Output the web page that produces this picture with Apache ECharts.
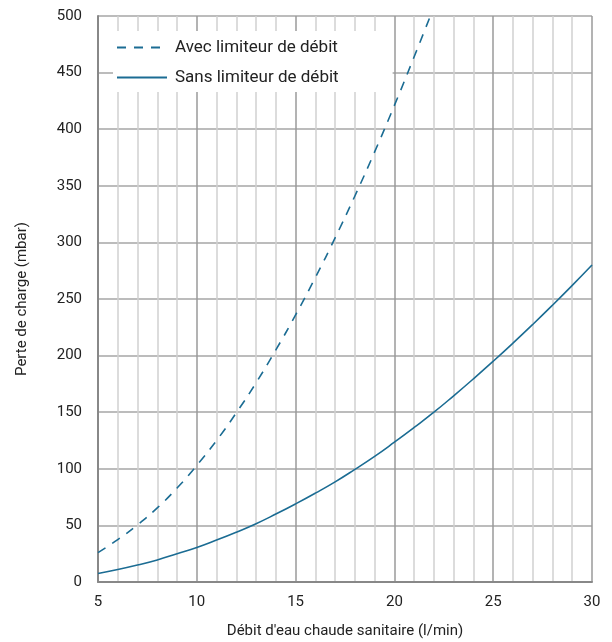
<!DOCTYPE html>
<html>
<head>
<meta charset="utf-8">
<script src="https://cdn.jsdelivr.net/npm/echarts@6/dist/echarts.min.js"></script>
<style>
html,body{margin:0;padding:0;background:#fff;}
#chart{width:612px;height:642px;}
</style>
</head>
<body>
<div id="chart"></div>
<script>
// Débit d'eau chaude sanitaire (l/min)
const flowAvec = [5,6,7,8,9,10,11,12,13,14,15,16,17,18,19,20,21,22];
const lossAvec = [26,37.5,50.5,65.5,83,103,125,149.5,176,205,236,269,304,341,380,421,464,508];
const flowSans = [5,6,7,8,9,10,11,12,13,14,15,16,17,18,19,20,21,22,23,24,25,26,27,28,29,30];
const lossSans = [7.5,11,15,19.5,25,30.5,37,44,51.5,60,69,78.5,88.5,99.5,111,123.5,136.5,150,164.5,179.5,195,211,227.5,244.5,262,280];
const seriesNames = ['Avec limiteur de débit','Sans limiteur de débit'];
const xLabel = "Débit d'eau chaude sanitaire (l/min)";
const yLabel = 'Perte de charge (mbar)';

const FONT = 'Roboto';
const LINE = '#1b6c93';

const chart = echarts.init(document.getElementById('chart'), null, {renderer:'canvas'});
chart.setOption({
  animation:false,
  backgroundColor:'#fff',
  textStyle:{fontFamily:FONT},
  grid:{left:98,right:20,top:16,bottom:60,containLabel:false,outerBoundsMode:'none'},
  legend:{
    orient:'vertical',
    left:113, top:31,
    padding:[8,54,6,3],
    backgroundColor:'#fff',
    itemWidth:50, itemHeight:14, itemGap:13,
    itemStyle:{opacity:0},
    textStyle:{fontFamily:FONT,fontSize:17,color:'#222',padding:[0,0,0,3]},
    data:seriesNames
  },
  xAxis:{
    type:'value', min:5, max:30, interval:1,
    name:xLabel, nameLocation:'middle', nameGap:42,
    nameTextStyle:{fontFamily:FONT,fontSize:15,color:'#222'},
    axisLine:{show:true,onZero:false,lineStyle:{color:'#888',width:2}},
    axisTick:{show:false},
    axisLabel:{
      margin:13, fontFamily:FONT, fontSize:15, color:'#222',
      formatter:function(v){return (v%5===0)?String(v):'';}
    },
    splitLine:{show:true,lineStyle:{color:['#9a9a9a','#d0d0d0','#d0d0d0','#d0d0d0','#d0d0d0'],width:1.5}}
  },
  yAxis:{
    type:'value', min:0, max:500, interval:50,
    name:yLabel, nameLocation:'middle', nameGap:68, nameRotate:90,
    nameTextStyle:{fontFamily:FONT,fontSize:15,color:'#222'},
    axisLine:{show:true,lineStyle:{color:'#888',width:2}},
    axisTick:{show:false},
    axisLabel:{margin:16,fontFamily:FONT,fontSize:15,color:'#222'},
    splitLine:{show:true,lineStyle:{color:'#a6a6a6',width:1.5}}
  },
  series:[
    {
      name:seriesNames[0], type:'line', smooth:true, symbol:'none',
      data:flowAvec.map((x,i)=>[x,lossAvec[i]]),
      lineStyle:{color:LINE,width:1.6,type:[9,8]},
      itemStyle:{color:LINE},
      clip:true, z:5
    },
    {
      name:seriesNames[1], type:'line', smooth:true, symbol:'none',
      data:flowSans.map((x,i)=>[x,lossSans[i]]),
      lineStyle:{color:LINE,width:1.6,type:'solid'},
      itemStyle:{color:LINE},
      clip:true, z:5
    }
  ]
});
</script>
</body>
</html>
